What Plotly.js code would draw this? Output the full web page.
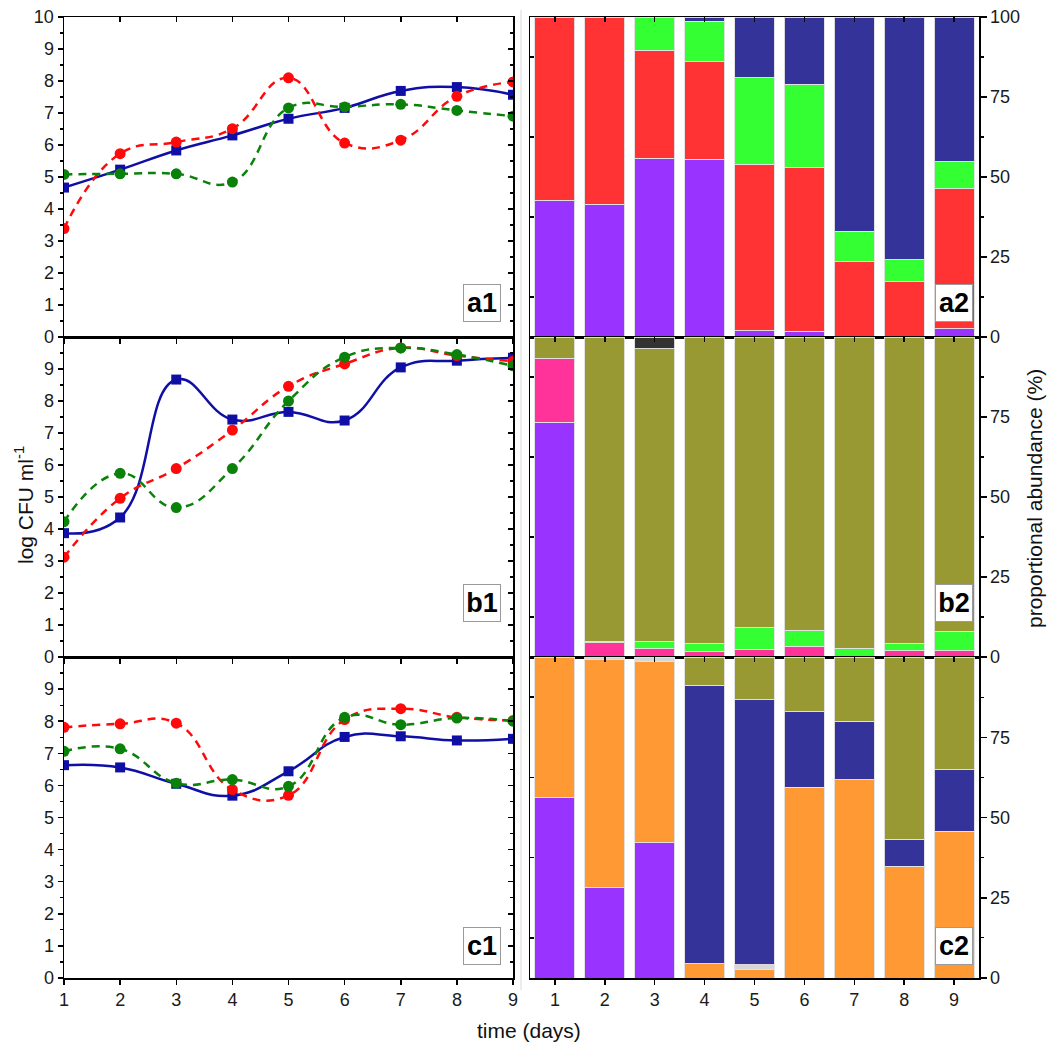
<!DOCTYPE html>
<html><head><meta charset="utf-8">
<script src="https://cdn.plot.ly/plotly-3.0.1.min.js"></script>
<style>html,body{margin:0;padding:0;background:#fff}#chart{width:1049px;height:1048px}</style>
</head><body><div id="chart"></div>
<script>
// ---------- data ----------
const days = [1,2,3,4,5,6,7,8,9];
const dayLabels = ['1','2','3','4','5','6','7','8','9'];

// growth curves (log CFU ml-1)
const a1_blue  = [4.67,5.23,5.83,6.30,6.82,7.16,7.69,7.81,7.57];
const a1_red   = [3.39,5.73,6.09,6.51,8.10,6.06,6.15,7.52,7.97];
const a1_green = [5.08,5.10,5.10,4.84,7.16,7.19,7.27,7.08,6.90];
const b1_blue  = [3.87,4.36,8.67,7.42,7.66,7.39,9.05,9.26,9.35];
const b1_red   = [3.12,4.96,5.89,7.09,8.46,9.16,9.66,9.42,9.24];
const b1_green = [4.23,5.74,4.67,5.89,8.00,9.37,9.66,9.45,9.10];
const c1_blue  = [6.63,6.56,6.05,5.68,6.44,7.51,7.53,7.40,7.45];
const c1_red   = [7.81,7.92,7.94,5.87,5.69,8.05,8.39,8.12,8.02];
const c1_green = [7.06,7.14,6.07,6.18,5.97,8.12,7.89,8.10,8.00];

// proportional abundance (%) – stacked segments, bottom to top
const a2_purple = [42.7,41.5,55.9,55.5,1.9,1.8,0,0,2.6];
const a2_red    = [57.3,58.5,33.7,30.6,52.1,51.3,23.6,17.4,43.8];
const a2_green  = [0,0,10.4,12.65,27.0,25.9,9.5,6.8,8.3];
const a2_navy   = [0,0,0,1.25,19.0,21.0,66.9,75.8,45.3];

const b2_purple = [73.4,0,0,0,0,0,0,0,0];
const b2_pink   = [20.0,4.5,2.6,1.6,2.4,3.4,0,1.9,1.9];
const b2_green  = [0,0.5,2.2,2.5,6.7,4.9,2.7,2.2,6.0];
const b2_olive  = [6.6,95.0,91.5,95.9,90.9,91.7,97.3,95.9,92.1];
const b2_dark   = [0,0,3.7,0,0,0,0,0,0];

const c2_purple = [56.3,28.3,42.1,0,0,0,0,0,0];
const c2_orange = [43.7,70.9,56.6,4.4,2.8,59.5,61.8,34.8,45.7];
const c2_gray   = [0,0.8,1.3,0,1.4,0,0,0,0];
const c2_navy   = [0,0,0,86.8,82.5,23.5,18.2,8.5,19.2];
const c2_olive  = [0,0,0,8.8,13.3,17.0,20.0,56.7,35.1];

const leftTicksA = [0,1,2,3,4,5,6,7,8,9,10];
const leftTicksBC = [0,1,2,3,4,5,6,7,8,9];
const rightTicksA = [0,25,50,75,100];
const rightTicksBC = [0,25,50,75];
const panelLabels = ['a1','b1','c1','a2','b2','c2'];

// ---------- styling ----------
const COL = {purple:'#9933FF', red:'#FF3333', green:'#33FF33', navy:'#333399', olive:'#999933',
             pink:'#FF3399', dark:'#333333', orange:'#FF9933', gray:'#D6D6D6'};
const BLUE='#0F0FA5', RED='#FF0A0A', GREEN='#0A820A';
const W=1049, H=1048;
const px = v => v/W, py = v => 1 - v/H;
const rows = [[17,337],[337,657],[657,978]];
const halves = []; for (let i=0;i<10;i++) halves.push(i+0.5);
const eighths = [12.5,37.5,62.5,87.5];

const traces = [];
function sfx(n){ return n===1 ? '' : String(n); }

function curves(n, blue, red, green){
  const xa='x'+sfx(n), ya='y'+sfx(n);
  traces.push({x:days, y:blue, xaxis:xa, yaxis:ya, type:'scatter', mode:'lines+markers',
    line:{color:BLUE, width:2.5, shape:'spline', smoothing:1.3}, marker:{symbol:'square', size:10, color:BLUE}, hoverinfo:'skip'});
  traces.push({x:days, y:red, xaxis:xa, yaxis:ya, type:'scatter', mode:'lines+markers',
    line:{color:RED, width:2.5, dash:'8px,6px', shape:'spline', smoothing:1.3}, marker:{symbol:'circle', size:11, color:RED}, hoverinfo:'skip'});
  traces.push({x:days, y:green, xaxis:xa, yaxis:ya, type:'scatter', mode:'lines+markers',
    line:{color:GREEN, width:2.5, dash:'8px,6px', shape:'spline', smoothing:1.3}, marker:{symbol:'circle', size:11, color:GREEN}, hoverinfo:'skip'});
}
function bars(n, segs){
  const xa='x'+sfx(n), ya='y'+sfx(n);
  segs.forEach(([vals,color]) => traces.push({type:'bar', x:days, y:vals.map(v=>v===0?null:v), xaxis:xa, yaxis:ya,
    width:0.8, marker:{color:color, line:{color:'rgba(225,225,225,0.95)', width:1}}, hoverinfo:'skip'}));
}

curves(1, a1_blue, a1_red, a1_green);
curves(2, b1_blue, b1_red, b1_green);
curves(3, c1_blue, c1_red, c1_green);
bars(4, [[a2_purple,COL.purple],[a2_red,COL.red],[a2_green,COL.green],[a2_navy,COL.navy]]);
bars(5, [[b2_purple,COL.purple],[b2_pink,COL.pink],[b2_green,COL.green],[b2_olive,COL.olive],[b2_dark,COL.dark]]);
bars(6, [[c2_purple,COL.purple],[c2_orange,COL.orange],[c2_gray,COL.gray],[c2_navy,COL.navy],[c2_olive,COL.olive]]);

// dummy traces so the overlay (mirror tick) axes are drawn
for (let r=0;r<3;r++){
  const nL=1+r, nR=4+r;
  traces.push({type:'scatter', x:[null], y:[null], xaxis:'x'+(7+r), yaxis:'y'+sfx(nL), hoverinfo:'skip'});
  traces.push({type:'scatter', x:[null], y:[null], xaxis:'x'+sfx(nL), yaxis:'y'+(7+r), hoverinfo:'skip'});
  traces.push({type:'scatter', x:[null], y:[null], xaxis:'x'+(10+r), yaxis:'y'+nR, hoverinfo:'skip'});
  traces.push({type:'scatter', x:[null], y:[null], xaxis:'x'+nR, yaxis:'y'+(10+r), hoverinfo:'skip'});
}

const layout = {width:W, height:H, margin:{l:0,r:0,t:0,b:0}, showlegend:false, barmode:'stack', bargap:0.2,
  paper_bgcolor:'#fff', plot_bgcolor:'rgba(0,0,0,0)',
  font:{family:'Liberation Sans, Arial, sans-serif', size:18, color:'#000'},
  annotations:[], shapes:[]};

const base = {showgrid:false, zeroline:false, linecolor:'#000', linewidth:1.5, tickcolor:'#000', tickwidth:1.5,
  fixedrange:true, tickfont:{size:18, color:'#1a1a1a'}};

for (let r=0;r<3;r++){
  const dom = [py(rows[r][1]), py(rows[r][0])];
  const nL = 1+r, sL = sfx(nL), nR = 4+r;
  // left panel
  layout['xaxis'+sL] = {...base, domain:[px(64),px(513)], range:[1,9], anchor:'y'+sL, ticks:'outside', ticklen:5,
    tickmode:'array', tickvals:days, ticktext:dayLabels, showticklabels:r===2, showline:true, mirror:true};
  layout['yaxis'+sL] = {...base, domain:dom, range:[0,10], anchor:'x'+sL, ticks:'outside', ticklen:5,
    tickmode:'array', tickvals: r===0?leftTicksA:leftTicksBC, showline:true, mirror:true,
    minor:{tickmode:'array', tickvals:halves, ticks:'outside', ticklen:3, tickcolor:'#000', tickwidth:1.2}};
  layout['xaxis'+(7+r)] = {...base, overlaying:'x'+sL, side:'top', anchor:'y'+sL, range:[1,9], ticks:'inside', ticklen:5,
    tickmode:'array', tickvals:days, showticklabels:false, showline:false};
  layout['yaxis'+(7+r)] = {...base, overlaying:'y'+sL, side:'right', anchor:'x'+sL, range:[0,10], ticks:'inside', ticklen:5,
    tickmode:'array', tickvals:leftTicksA, showticklabels:false, showline:false,
    minor:{tickmode:'array', tickvals:halves, ticks:'inside', ticklen:3, tickcolor:'#000', tickwidth:1.2}};
  // right panel
  layout['xaxis'+nR] = {...base, domain:[px(530),px(979)], range:[0.5,9.5], anchor:'y'+nR, ticks:'outside', ticklen:5,
    tickmode:'array', tickvals:days, ticktext:dayLabels, showticklabels:r===2, showline:true, mirror:true};
  layout['yaxis'+nR] = {...base, domain:dom, range:[0,100], anchor:'x'+nR, side:'right', ticks:'outside', ticklen:6,
    tickmode:'array', tickvals: r===0?rightTicksA:rightTicksBC, showline:true, mirror:true,
    minor:{tickmode:'array', tickvals:eighths, ticks:'outside', ticklen:3, tickcolor:'#000', tickwidth:1.2}};
  layout['xaxis'+(10+r)] = {...base, overlaying:'x'+nR, side:'top', anchor:'y'+nR, range:[0.5,9.5], ticks:'inside', ticklen:5,
    tickmode:'array', tickvals:days, showticklabels:false, showline:false};
  layout['yaxis'+(10+r)] = {...base, overlaying:'y'+nR, side:'left', anchor:'x'+nR, range:[0,100], ticks:'inside', ticklen:4,
    tickmode:'array', tickvals:eighths, showticklabels:false, showline:false};
}

// panel labels
const labelCenters = [[482,303],[482,603],[482,946],[954,303],[954,603],[954,946]];
panelLabels.forEach((t,i)=>{
  layout.annotations.push({xref:'paper', yref:'paper', x:px(labelCenters[i][0]), y:py(labelCenters[i][1]),
    xanchor:'center', yanchor:'middle', text:'<b>'+t+'</b>', showarrow:false,
    font:{family:'Liberation Sans, Arial, sans-serif', size:27, color:'#000'},
    bgcolor:'#fff', bordercolor:'#9a9a9a', borderwidth:1, borderpad:1, width:34, height:34});
});
// axis titles
layout.annotations.push({xref:'paper', yref:'paper', x:px(24), y:py(505), textangle:-90, showarrow:false,
  text:'log CFU ml<sup>-1</sup>', font:{size:21, color:'#111'}, xanchor:'center', yanchor:'middle'});
layout.annotations.push({xref:'paper', yref:'paper', x:px(1035), y:py(499), textangle:-90, showarrow:false,
  text:'proportional abundance (%)', font:{size:21, color:'#111'}, xanchor:'center', yanchor:'middle'});
layout.annotations.push({xref:'paper', yref:'paper', x:px(529), y:py(1030), showarrow:false,
  text:'time (days)', font:{size:21, color:'#111'}, xanchor:'center', yanchor:'middle'});
// faint separator between the two columns
layout.shapes.push({type:'line', xref:'paper', yref:'paper', x0:px(521), x1:px(521), y0:py(990), y1:py(10),
  line:{color:'#d8d8d8', width:1}});

Plotly.newPlot('chart', traces, layout, {staticPlot:true, displayModeBar:false});
</script>
</body></html>
